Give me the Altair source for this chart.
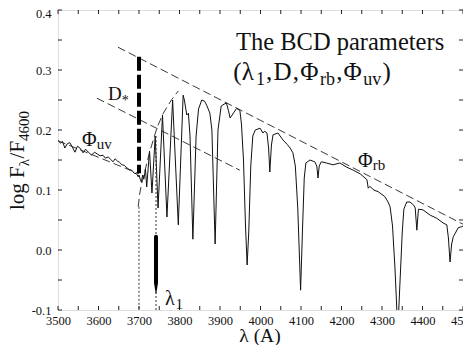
import altair as alt
import pandas as pd

SERIF = "Liberation Serif"

# ---------------- data ----------------
lam = [3500, 3506, 3511, 3517, 3523, 3529, 3535, 3542, 3548, 3554, 3562, 3568, 3575,
       3583, 3590, 3597, 3604, 3611, 3617, 3624, 3630, 3636, 3641, 3647, 3652, 3658,
       3664, 3670, 3676, 3682, 3688, 3694, 3698,
       3700, 3703, 3706, 3709, 3712, 3716, 3719, 3726, 3732, 3740, 3747, 3758, 3769,
       3783, 3797, 3809, 3812, 3818, 3822, 3826, 3833, 3841, 3847, 3855, 3862, 3868,
       3875, 3880, 3888, 3895, 3903, 3910, 3916, 3921, 3925, 3930, 3941, 3949, 3953,
       3958, 3963, 3967, 3971, 3976, 3981, 3987, 3999, 4006, 4010, 4016, 4020, 4023,
       4027, 4031, 4043, 4056, 4066, 4073, 4080, 4086, 4092, 4099, 4104, 4108, 4112,
       4122, 4134, 4139, 4142, 4145, 4150, 4163, 4179, 4196, 4213, 4229, 4246, 4258,
       4263, 4266, 4270, 4280, 4291, 4307, 4315, 4320, 4326, 4332, 4336, 4339, 4342,
       4346, 4350, 4354, 4361, 4369, 4378, 4382, 4386, 4390, 4401, 4419, 4435, 4451,
       4460, 4464, 4468, 4472, 4476, 4481, 4488, 4497, 4500]
flux = [0.183, 0.178, 0.181, 0.170, 0.177, 0.179, 0.172, 0.163, 0.173, 0.170, 0.162, 0.168, 0.163,
        0.158, 0.163, 0.160, 0.157, 0.158, 0.153, 0.155, 0.151, 0.147, 0.152, 0.148, 0.146, 0.142,
        0.141, 0.137, 0.134, 0.133, 0.128, 0.127, 0.122,
        0.125, 0.118, 0.113, 0.125, 0.118, 0.135, 0.105, 0.165, 0.095, 0.190, 0.070, 0.225, 0.055,
        0.250, 0.042, 0.258, 0.250, 0.225, 0.228, 0.190, 0.018, 0.190, 0.235, 0.250, 0.248, 0.240,
        0.228, 0.200, 0.010, 0.200, 0.240, 0.243, 0.245, 0.232, 0.220, 0.225, 0.236, 0.233, 0.210,
        0.150, 0.040, -0.025, 0.030, 0.140, 0.190, 0.200, 0.203, 0.195, 0.198, 0.195, 0.170, 0.130,
        0.175, 0.192, 0.195, 0.183, 0.176, 0.170, 0.162, 0.140, 0.070, -0.067, 0.040, 0.120, 0.145,
        0.150, 0.147, 0.140, 0.120, 0.140, 0.147, 0.145, 0.142, 0.145, 0.138, 0.133, 0.127, 0.120,
        0.117, 0.103, 0.106, 0.100, 0.097, 0.089, 0.080, 0.072, 0.040, -0.030, -0.090, -0.140, -0.090,
        -0.030, 0.030, 0.068, 0.080, 0.080, 0.075, 0.070, 0.033, 0.068, 0.067, 0.058, 0.053, 0.045,
        0.042, 0.020, -0.020, 0.010, 0.022, 0.028, 0.037, 0.039, 0.040]

# dashed guide lines
rb_lam, rb_val = [3648, 4500], [0.338, 0.043]
mid_lam, mid_val = [3596, 3949], [0.253, 0.133]
uv_lam, uv_val = [3500, 3700], [0.182, 0.127]
env_lam = [3698, 3702, 3708, 3715, 3725, 3735, 3745, 3760, 3780, 3797]
env_val = [0.072, 0.095, 0.115, 0.133, 0.160, 0.183, 0.205, 0.228, 0.250, 0.265]
# dotted verticals
dot_lam = [3700, 3700, 3742, 3742]
dot_val = [0.072, -0.1, 0.19, -0.1]
# thick D bar and lambda_1 marker
D_lam, D_val = [3700, 3700], [0.322, 0.128]
l1_lam, l1_val, l1_w = [3742, 3742, 3742], [0.022, -0.055, -0.072], [4, 4, 0.6]

x_ticks = list(range(3500, 4501, 50))
y_ticks = [round(-0.1 + 0.05 * i, 2) for i in range(11)]
x_labels = list(range(3500, 4501, 100))
y_labels = [-0.1, 0.0, 0.1, 0.2, 0.3, 0.4]

W, H = 405, 300
xs = alt.Scale(domain=[3500, 4500], nice=False, zero=False)
ys = alt.Scale(domain=[-0.1, 0.4], nice=False, zero=False)

AX = alt.Axis(values=x_labels, format="d", ticks=False, domain=False, grid=False,
              labelFont=SERIF, labelFontSize=12.5, labelColor="#111",
              labelPadding=4, labelFlush=False)
AY = alt.Axis(values=y_labels, format=".1f", ticks=False, domain=False, grid=False,
              labelFont=SERIF, labelFontSize=12.5, labelColor="#111",
              labelPadding=7, labelExpr="replace(datum.label, '−', '-')",
              labelOffset={"condition": {"test": "datum.value > 0.39", "value": 3}, "value": 0})

def X(f):
    return alt.X(f, scale=xs, axis=AX, title=None)

def Y(f):
    return alt.Y(f, scale=ys, axis=AY, title=None)

def seg_df(ls, vs, name):
    return pd.DataFrame({"lam": ls, "val": vs, "seg": name, "ord": range(len(ls))})

# ---------------- layers ----------------
spec = alt.Chart(pd.DataFrame({"lam": lam, "val": flux})).mark_line(
    color="#111", strokeWidth=1, clip=True
).encode(x=X("lam:Q"), y=Y("val:Q"))

dashed_df = pd.concat([seg_df(rb_lam, rb_val, "rb"), seg_df(mid_lam, mid_val, "mid"),
                       seg_df(uv_lam, uv_val, "uv"), seg_df(env_lam, env_val, "env")])
dashed = alt.Chart(dashed_df).mark_line(color="#222", strokeWidth=0.9, strokeDash=[8, 4]).encode(
    x=X("lam:Q"), y=Y("val:Q"), detail="seg:N", order="ord:Q")

dotted_df = pd.concat([seg_df(dot_lam[:2], dot_val[:2], "a"), seg_df(dot_lam[2:], dot_val[2:], "b")])
dotted = alt.Chart(dotted_df).mark_line(color="#333", strokeWidth=1, strokeDash=[2, 2]).encode(
    x=X("lam:Q"), y=Y("val:Q"), detail="seg:N", order="ord:Q")

dbar = alt.Chart(seg_df(D_lam, D_val, "D")).mark_line(color="black", strokeWidth=4,
                                                      strokeDash=[14, 4]).encode(
    x=X("lam:Q"), y=Y("val:Q"), order="ord:Q")

l1 = alt.Chart(pd.DataFrame({"lam": l1_lam, "val": l1_val, "w": l1_w, "ord": [0, 1, 2]})).mark_trail(
    color="black").encode(
    x=X("lam:Q"), y=Y("val:Q"),
    size=alt.Size("w:Q", scale=None, legend=None), order="ord:Q")

# inward ticks on all four sides
xt = pd.DataFrame({"lam": x_ticks})
yt = pd.DataFrame({"val": y_ticks})
tick_style = dict(color="#222", strokeWidth=1)
xt_bot = alt.Chart(xt).mark_rule(**tick_style).encode(x=X("lam:Q"), y=alt.value(H), y2=alt.value(H - 4))
xt_top = alt.Chart(xt).mark_rule(**tick_style).encode(x=X("lam:Q"), y=alt.value(0), y2=alt.value(4))
yt_left = alt.Chart(yt).mark_rule(**tick_style).encode(y=Y("val:Q"), x=alt.value(0), x2=alt.value(4))
yt_right = alt.Chart(yt).mark_rule(**tick_style).encode(y=Y("val:Q"), x=alt.value(W), x2=alt.value(W - 4))

# ---------------- rich text helper ----------------
GW = {' ': 250, '(': 333, ')': 333, ',': 250, '/': 278, '.': 250, '*': 500,
      'A': 722, 'B': 667, 'C': 667, 'D': 722, 'F': 556, 'T': 611,
      'a': 444, 'b': 500, 'e': 444, 'g': 500, 'h': 500, 'l': 278, 'm': 778, 'o': 500,
      'p': 500, 'r': 333, 's': 389, 't': 278, 'u': 500, 'v': 500,
      'λ': 520, 'Φ': 740}

def tw(s, size):
    return sum(GW.get(c, 500) for c in s) * size / 1000.0

def rich(parts, x0, y0, gap=0.0):
    """parts: list of (text, size, dy); anchored at data point (x0, y0)."""
    layers, off = [], 0.0
    anchor = pd.DataFrame({"lam": [x0], "val": [y0]})
    for text, size, dy in parts:
        layers.append(alt.Chart(anchor).mark_text(
            text=text, font=SERIF, fontSize=size, align="left", baseline="alphabetic",
            color="#111", dx=off, dy=dy).encode(x=X("lam:Q"), y=Y("val:Q")))
        off += tw(text, size) + gap
    return layers

one = pd.DataFrame({"k": [0]})

def rich_vertical(parts, xpx, ypx):
    """rotated text reading upwards, pixel position in plot coordinates."""
    layers, off = [], 0.0
    for text, size, dy in parts:
        layers.append(alt.Chart(one).mark_text(
            text=text, font=SERIF, fontSize=size, align="left", baseline="alphabetic",
            color="#111", angle=270).encode(x=alt.value(xpx + dy), y=alt.value(ypx - off)))
        off += tw(text, size)
    return layers

texts = []
texts += rich([("The BCD parameters", 24.5, 0)], 3939.5, 0.3333)
texts += rich([("(λ", 25, 0), ("1", 18, 5), (",", 25, 0), ("D", 25, 0), (",", 25, 0), ("Φ", 25, 0),
               ("rb", 18, 5), (",", 25, 0), ("Φ", 25, 0), ("uv", 18, 5), (")", 25, 0)],
              3933.0, 0.2833, gap=1.2)
texts += rich([("D", 19, 0), ("*", 14, 5)], 3623.5, 0.25)
texts += rich([("Φ", 20, 0), ("uv", 15, 3)], 3559.3, 0.1733)
texts += rich([("Φ", 20, 0), ("rb", 15, 3)], 4240.7, 0.1383)
texts += rich([("λ", 20, 0), ("1", 15, 4)], 3764.2, -0.0917)
texts += rich_vertical([("log F", 21, 0), ("λ", 15, 5), ("/F", 21, 0), ("4600", 15, 5)], -34, 200)
xtitle = alt.Chart(one).mark_text(text="λ (A)", font=SERIF, fontSize=19.5, align="center",
                                  baseline="alphabetic", color="#111").encode(
    x=alt.value(202), y=alt.value(331.5))

chart = alt.layer(spec, dashed, dotted, dbar, l1, xt_bot, xt_top, yt_left, yt_right,
                  *texts, xtitle).properties(
    width=W, height=H,
    autosize=alt.AutoSizeParams(type="none"),
    padding={"left": 50, "top": 2, "right": 0, "bottom": 35},
).configure_view(stroke="#111", strokeWidth=1).configure(background="white")

chart.save("out.html", embed_options={"renderer": "svg", "actions": False})
